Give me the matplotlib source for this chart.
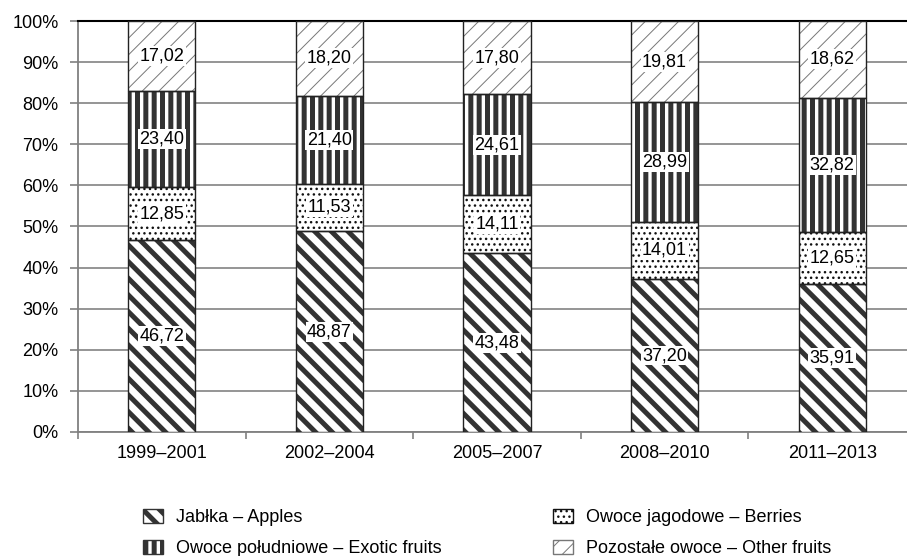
import numpy as np
import matplotlib
matplotlib.use("Agg")
import matplotlib.pyplot as plt
from matplotlib.ticker import FixedLocator

# Data (shares, %)
periods = ["1999–2001", "2002–2004", "2005–2007", "2008–2010", "2011–2013"]
apples = [46.72, 48.87, 43.48, 37.20, 35.91]
berries = [12.85, 11.53, 14.11, 14.01, 12.65]
exotic = [23.40, 21.40, 24.61, 28.99, 32.82]
other = [17.02, 18.20, 17.80, 19.81, 18.62]

names = ["Jabłka – Apples", "Owoce jagodowe – Berries",
         "Owoce południowe – Exotic fruits", "Pozostałe owoce – Other fruits"]
series = [apples, berries, exotic, other]
hatches = ["\\\\", "...", "||", "//"]
hatch_colors = ["#333333", "#111111", "#333333", "#777777"]
hatch_lws = [3.6, 1.0, 3.6, 0.7]

plt.rcParams["font.family"] = ["Liberation Sans", "DejaVu Sans"]
plt.rcParams["font.size"] = 13

fig = plt.figure(figsize=(9.07, 5.56), dpi=100)
ax = fig.add_axes([78 / 907, 1 - 432 / 556, (916 - 78) / 907, (432 - 21) / 556])

x = np.arange(len(periods))
width = 0.4
bottom = np.zeros(len(periods))
handles = []
for vals, h, hc, hlw, name in zip(series, hatches, hatch_colors, hatch_lws, names):
    with plt.rc_context({"hatch.linewidth": hlw}):
        bars = ax.bar(x, vals, width, bottom=bottom, color="white",
                      edgecolor=hc, hatch=h, linewidth=0, zorder=3, label=name)
        for b in bars:
            if hasattr(b, "set_hatch_linewidth"):
                b.set_hatch_linewidth(hlw)
    ax.bar(x, vals, width, bottom=bottom, fill=False, edgecolor="#222222",
           linewidth=1.0, zorder=4)
    for xi, v, b0 in zip(x, vals, bottom):
        ax.text(xi, b0 + v / 2, f"{v:.2f}".replace(".", ","), ha="center",
                va="center", fontsize=13, zorder=5,
                bbox=dict(boxstyle="square,pad=0.08", fc="white", ec="none"))
    handles.append(bars)
    bottom += np.array(vals)

ax.set_xlim(-0.5, len(periods) - 0.5)
ax.set_ylim(0, 100)
ax.set_yticks(np.arange(0, 101, 10))
ax.set_yticklabels([f"{v}%" for v in range(0, 101, 10)])
ax.set_xticks(x)
ax.set_xticklabels(periods)
ax.xaxis.set_minor_locator(FixedLocator(np.arange(-0.5, len(periods), 1.0)))
ax.tick_params(axis="x", which="major", length=0, pad=9)
ax.tick_params(axis="x", which="minor", length=5, color="#808080", width=1.2)
ax.tick_params(axis="y", length=6, color="#808080", width=1.2, pad=8)

ax.yaxis.grid(True, color="#8c8c8c", linewidth=1.3, zorder=0)
ax.set_axisbelow(True)
ax.spines["right"].set_visible(False)
ax.spines["top"].set_color("black")
ax.spines["top"].set_linewidth(1.5)
ax.spines["left"].set_color("#808080")
ax.spines["left"].set_linewidth(1.3)
ax.spines["bottom"].set_color("#808080")
ax.spines["bottom"].set_linewidth(1.3)

order = [0, 2, 1, 3]
leg = fig.legend([handles[i] for i in order], [names[i] for i in order],
                 loc="upper left", bbox_to_anchor=(143 / 907, 1 - 509 / 556),
                 ncol=2, frameon=False, fontsize=13, borderpad=0,
                 borderaxespad=0, handlelength=1.1, handleheight=0.8,
                 handletextpad=0.7, columnspacing=6.2, labelspacing=0.75)
for p, i in zip(leg.get_patches(), order):
    p.set_linewidth(1.0)
    if hasattr(p, "set_hatch_linewidth"):
        p.set_hatch_linewidth(hatch_lws[i])

fig.savefig("out.png", dpi=100)
